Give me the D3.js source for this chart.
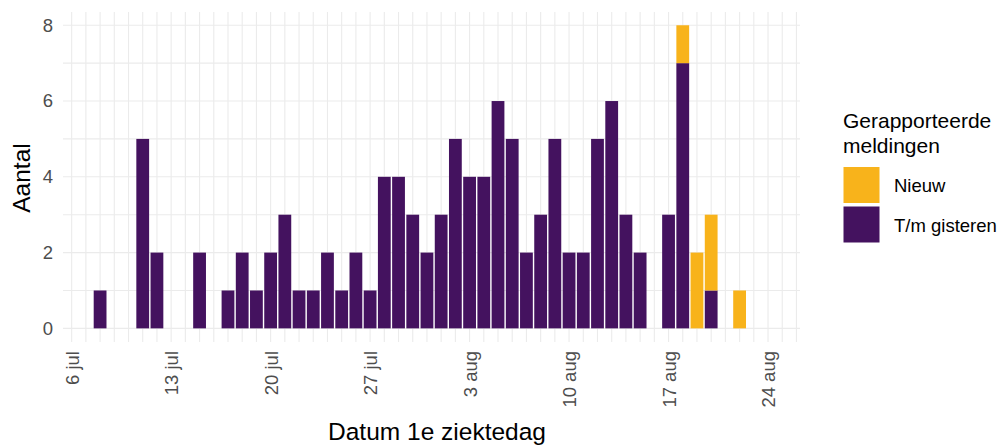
<!DOCTYPE html>
<html>
<head>
<meta charset="utf-8">
<script src="https://cdn.jsdelivr.net/npm/d3@7"></script>
<style>
  html, body { margin: 0; padding: 0; background: #ffffff; }
  text { font-family: "Liberation Sans", Arial, sans-serif; }
</style>
</head>
<body>
<svg id="chart" width="1008" height="445"></svg>
<script>
// ---- data ----
const dates = [
  "2020-07-08","2020-07-09","2020-07-10","2020-07-11","2020-07-12","2020-07-13","2020-07-14",
  "2020-07-15","2020-07-16","2020-07-17","2020-07-18","2020-07-19","2020-07-20","2020-07-21",
  "2020-07-22","2020-07-23","2020-07-24","2020-07-25","2020-07-26","2020-07-27","2020-07-28",
  "2020-07-29","2020-07-30","2020-07-31","2020-08-01","2020-08-02","2020-08-03","2020-08-04",
  "2020-08-05","2020-08-06","2020-08-07","2020-08-08","2020-08-09","2020-08-10","2020-08-11",
  "2020-08-12","2020-08-13","2020-08-14","2020-08-15","2020-08-16","2020-08-17","2020-08-18",
  "2020-08-19","2020-08-20","2020-08-21","2020-08-22"
];
const tmGisteren = [
  1,0,0,5,2,0,0,
  2,0,1,2,1,2,3,
  1,1,2,1,2,1,4,
  4,3,2,3,5,4,4,
  6,5,2,3,5,2,2,
  5,6,3,2,0,3,7,
  0,1,0,0
];
const nieuw = [
  0,0,0,0,0,0,0,
  0,0,0,0,0,0,0,
  0,0,0,0,0,0,0,
  0,0,0,0,0,0,0,
  0,0,0,0,0,0,0,
  0,0,0,0,0,0,1,
  2,2,0,1
];
const seriesNames = ["T/m gisteren", "Nieuw"];
const seriesColors = ["#44125f", "#f8b31b"];
const tickDates = ["2020-07-06","2020-07-13","2020-07-20","2020-07-27","2020-08-03","2020-08-10","2020-08-17","2020-08-24"];
const tickLabels = ["6 jul","13 jul","20 jul","27 jul","3 aug","10 aug","17 aug","24 aug"];
const yTicks = [0, 2, 4, 6, 8];

// ---- layout ----
const svg = d3.select("#chart");
const parse = d3.utcParse("%Y-%m-%d");
const DAY = 864e5;
const origin = parse("2020-07-06");

const x = d3.scaleUtc()
  .domain([new Date(+origin - 0.61 * DAY), new Date(+origin + 51.25 * DAY)])
  .range([63, 800]);
const y = d3.scaleLinear().domain([-0.36, 8.35]).range([342, 12]);

const rows = dates.map((d, i) => ({ date: parse(d), "T/m gisteren": tmGisteren[i], "Nieuw": nieuw[i] }));
const stacked = d3.stack().keys(seriesNames)(rows);

// grid
const grid = svg.append("g");
const dayLines = d3.utcDay.range(origin, new Date(+origin + 51.5 * DAY));
grid.selectAll("line.v").data(dayLines).enter().append("line")
  .attr("x1", d => x(d)).attr("x2", d => x(d))
  .attr("y1", y.range()[0]).attr("y2", y.range()[1])
  .attr("stroke", "#ebebeb").attr("stroke-width", 1.1);
grid.selectAll("line.h").data(d3.range(0, 9)).enter().append("line")
  .attr("x1", x.range()[0]).attr("x2", x.range()[1])
  .attr("y1", d => y(d)).attr("y2", d => y(d))
  .attr("stroke", "#ebebeb").attr("stroke-width", 1.1);

// bars
const dayW = x(new Date(+origin + DAY)) - x(origin);
const bw = dayW * 0.9;
svg.append("g").selectAll("g").data(stacked).enter().append("g")
  .attr("fill", (d, i) => seriesColors[i])
  .selectAll("rect").data(d => d.filter(p => p[1] - p[0] > 0)).enter().append("rect")
  .attr("x", d => x(d.data.date) - bw / 2)
  .attr("width", bw)
  .attr("y", d => y(d[1]))
  .attr("height", d => y(d[0]) - y(d[1]));

// y axis labels
const yAxis = d3.axisLeft(y).tickValues(yTicks).tickSize(0).tickPadding(0);
const yg = svg.append("g").attr("transform", "translate(53,0)").call(yAxis);
yg.select(".domain").remove();
yg.selectAll("text").attr("font-size", 18.5).attr("fill", "#4d4d4d")
  .attr("font-family", "Liberation Sans, Arial, sans-serif");

// x axis labels
const xAxis = d3.axisBottom(x).tickValues(tickDates.map(parse))
  .tickFormat((d, i) => tickLabels[i]).tickSize(0);
const xg = svg.append("g").attr("transform", "translate(0,351)").call(xAxis);
xg.select(".domain").remove();
xg.selectAll("text")
  .attr("font-size", 18.5).attr("fill", "#4d4d4d")
  .attr("font-family", "Liberation Sans, Arial, sans-serif")
  .attr("transform", "rotate(-90)")
  .attr("text-anchor", "end")
  .attr("x", 0).attr("y", 0).attr("dy", "0.36em");

// axis titles
svg.append("text").attr("x", 437).attr("y", 440).attr("text-anchor", "middle")
  .attr("font-size", 24.5).attr("fill", "#000").text("Datum 1e ziektedag");
svg.append("text").attr("transform", "translate(30,178) rotate(-90)").attr("text-anchor", "middle")
  .attr("font-size", 24.5).attr("fill", "#000").text("Aantal");

// legend
const lg = svg.append("g");
lg.append("text").attr("x", 843).attr("y", 128).attr("font-size", 21).text("Gerapporteerde");
lg.append("text").attr("x", 843).attr("y", 153).attr("font-size", 21).text("meldingen");
const legendOrder = [1, 0];
legendOrder.forEach((si, k) => {
  const top = 167 + k * 39.5;
  lg.append("rect").attr("x", 843.5).attr("y", top).attr("width", 36).attr("height", 36)
    .attr("fill", seriesColors[si]);
  lg.append("text").attr("x", 894).attr("y", top + 25).attr("font-size", 18.5)
    .attr("fill", "#000").text(seriesNames[si]);
});
</script>
</body>
</html>
